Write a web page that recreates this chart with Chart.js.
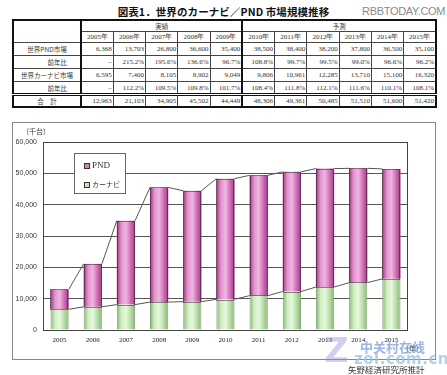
<!DOCTYPE html>
<html>
<head>
<meta charset="utf-8">
<script src="https://cdn.jsdelivr.net/npm/chart.js@4/dist/chart.umd.min.js"></script>
<style>
	body { margin: 0; width: 447px; height: 375px; overflow: hidden; background: #fff; position: relative; font-family: "Noto Sans CJK JP", sans-serif; }
	#title { position: absolute; left: 0; width: 447px; top: 4px; text-align: center; font: bold 10.5px "Noto Sans CJK JP"; color: #111; letter-spacing: 0.1px; }
	#site { position: absolute; left: 362px; top: 5px; font: 11px "Liberation Sans"; color: #8a8a8a; letter-spacing: -0.3px; }
	#tbl { position: absolute; left: 12px; top: 19px; width: 425px; border-collapse: collapse; table-layout: fixed; border: 2px solid #111; color: #333; }
	#tbl td { border: 1px solid #444; padding: 0 1px; font: 7px "Liberation Serif"; white-space: nowrap; overflow: hidden; }
	#tbl td.lab { font: 6.5px "Noto Sans CJK JP"; text-align: center; border-right: 2px solid #111; }
	#tbl td.sub { text-align: right; padding-right: 13px; }
	#tbl td.num { text-align: right; }
	#tbl td.hd { text-align: center; font: 6.5px "Noto Sans CJK JP"; }
	#tbl td.yr { text-align: center; font: 7px "Liberation Serif"; }
	#tbl td.split { border-left: 2px solid #111; }
	#tbl tr.tot td { border-top: 3px double #111; }
	#frame { position: absolute; left: 12px; top: 122px; width: 422px; height: 236px; border: 1px solid #888; }
	#wrap { position: absolute; left: 13px; top: 123px; width: 422px; height: 236px; }
	#unit { position: absolute; left: 22px; top: 126px; font: 7px "Noto Sans CJK JP"; color: #333; }
	#legend { position: absolute; left: 74px; top: 153px; width: 50px; height: 39px; border: 1px solid #666; background: #fff; }
	#legend div { position: absolute; left: 9px; white-space: nowrap; color: #333; }
	#legend span.sw { display: inline-block; width: 4px; height: 4px; border: 1px solid #333; margin-right: 2px; vertical-align: middle; }
	#year { position: absolute; left: 402px; top: 343px; font: 7px "Noto Sans CJK JP"; color: #333; }
	#wm1 { position: absolute; left: 324px; top: 330px; font: bold 34px "DejaVu Sans"; color: rgba(140,140,215,0.4); }
	#wm2 { position: absolute; left: 360px; top: 337px; font: bold 13px "Noto Sans CJK SC"; color: rgba(110,150,215,0.7); }
	#wm3 { position: absolute; left: 354px; top: 350px; font: bold 15px "DejaVu Sans"; color: rgba(150,195,230,0.75); letter-spacing: 0.5px; }
	#src { position: absolute; left: 348px; top: 363px; font: 8.5px "Noto Sans CJK JP"; color: #333; }
</style>
</head>
<body>
<div id="title">図表1．世界のカーナビ／PND 市場規模推移</div>
<div id="site">RBBTODAY.COM</div>
<table id="tbl"></table>
<div id="frame"></div>
<div id="wrap"><canvas id="chart" width="422" height="236"></canvas></div>
<div id="unit">（千台）</div>
<div id="legend"></div>
<div id="year">（年）</div>
<div id="wm1">Z</div>
<div id="wm2">中关村在线</div>
<div id="wm3">zol.com.cn</div>
<div id="src">矢野経済研究所推計</div>
<script>
const years = ['2005', '2006', '2007', '2008', '2009', '2010', '2011', '2012', '2013', '2014', '2015'];
const pndValues = [6368, 13703, 26800, 36600, 35400, 38500, 38400, 38200, 37800, 36500, 35100];
const pndGrowth = ['–', '215.2%', '195.6%', '136.6%', '96.7%', '108.8%', '99.7%', '99.5%', '99.0%', '96.6%', '96.2%'];
const navValues = [6595, 7400, 8105, 8902, 9049, 9806, 10961, 12285, 13710, 15100, 16320];
const navGrowth = ['–', '112.2%', '109.5%', '109.8%', '101.7%', '108.4%', '111.8%', '112.1%', '111.6%', '110.1%', '108.1%'];
const totalValues = [12963, 21103, 34905, 45502, 44449, 48306, 49361, 50485, 51510, 51600, 51420];
const actualCount = 5; // 2005-2009 実績, rest 予測
const yMax = 60000;
const yStep = 10000;

function fmt(v) {
	return typeof v === 'number' ? v.toLocaleString('en-US') : v;
}

// TABLE
function row(label, values, labCls, h, trCls) {
	let html = '<tr style="height:' + h + 'px"' + (trCls ? ' class="' + trCls + '"' : '') + '><td class="lab ' + labCls + '">' + label + '</td>';
	values.forEach((v, i) => {
		html += '<td class="num' + (i === actualCount ? ' split' : '') + '">' + fmt(v) + '</td>';
	});
	return html + '</tr>';
}

let t = '<colgroup><col style="width:68px">';
years.forEach(() => t += '<col>');
t += '</colgroup>';
t += '<tr style="height:11px"><td class="lab" rowspan="2"></td><td class="hd" colspan="' + actualCount + '">実績</td><td class="hd split" colspan="' + (years.length - actualCount) + '">予測</td></tr>';
t += '<tr style="height:11px">';
years.forEach((y, i) => t += '<td class="yr' + (i === actualCount ? ' split' : '') + '">' + y + '年</td>');
t += '</tr>';
t += row('世界PND市場', pndValues, '', 13);
t += row('前年比', pndGrowth, 'sub', 13);
t += row('世界カーナビ市場', navValues, '', 13);
t += row('前年比', navGrowth, 'sub', 13);
t += row('合　計', totalValues, '', 12, 'tot');
document.getElementById('tbl').innerHTML = t;

// CHART
const barPct = 0.55;
const pinkStops = ['#9a3a7e', '#e394cf', '#efb6e0', '#d06fb6', '#9e3d83'];
const greenStops = ['#86b276', '#cfeec0', '#e6f8de', '#b9dca8', '#87b478'];

function barGradient(stops) {
	return function (c) {
		const chart = c.chart;
		if (!chart.chartArea || c.dataIndex === undefined) return stops[2];
		const xs = chart.scales.x;
		const cx = xs.getPixelForValue(c.dataIndex);
		const w = xs.width / years.length * barPct;
		const g = chart.ctx.createLinearGradient(cx - w / 2, 0, cx + w / 2, 0);
		stops.forEach((s, i) => g.addColorStop(i / (stops.length - 1), s));
		return g;
	};
}

const chartDecor = {
	id: 'chartDecor',
	afterDatasetsDraw(chart) {
		const ctx = chart.ctx;
		const a = chart.chartArea;
		ctx.save();
		// series lines between bar tops
		ctx.strokeStyle = '#555';
		ctx.lineWidth = 1;
		[0, 1].forEach(di => {
			const bars = chart.getDatasetMeta(di).data;
			ctx.beginPath();
			for (let i = 0; i < bars.length - 1; i++) {
				const p = bars[i], q = bars[i + 1];
				ctx.moveTo(p.x + p.width / 2, p.y);
				ctx.lineTo(q.x - q.width / 2, q.y);
			}
			ctx.stroke();
		});
		// dotted border around PND segment
		ctx.strokeStyle = '#2a1424';
		ctx.setLineDash([1, 1]);
		chart.getDatasetMeta(1).data.forEach(b => {
			ctx.strokeRect(Math.round(b.x - b.width / 2) + 0.5, Math.round(b.y) + 0.5, Math.round(b.width) - 1, Math.round(b.base - b.y));
		});
		ctx.setLineDash([]);
		// plot frame
		ctx.strokeStyle = '#444';
		ctx.strokeRect(Math.round(a.left) + 0.5, Math.round(a.top) + 0.5, Math.round(a.width) - 1, Math.round(a.height));
		ctx.restore();
	}
};

const chart = new Chart(document.getElementById('chart'), {
	type: 'bar',
	data: {
		labels: years,
		datasets: [{
			label: 'カーナビ',
			data: navValues,
			backgroundColor: barGradient(greenStops),
			borderColor: '#86a67c',
			borderWidth: { left: 1, right: 1, top: 0, bottom: 0 },
			borderSkipped: false,
			legendColor: '#c9e8ba'
		}, {
			label: 'PND',
			data: pndValues,
			backgroundColor: barGradient(pinkStops),
			borderWidth: 0,
			legendColor: '#d77fbf'
		}]
	},
	options: {
		responsive: false,
		animation: false,
		devicePixelRatio: 1,
		layout: { padding: { left: 0, top: 19, right: 27, bottom: 11 } },
		datasets: { bar: { barPercentage: barPct, categoryPercentage: 1 } },
		plugins: { legend: { display: false }, tooltip: { enabled: false } },
		scales: {
			x: {
				stacked: true,
				grid: { display: false, drawTicks: false },
				border: { display: false },
				ticks: { color: '#222', font: { family: 'Liberation Serif', size: 7 }, padding: 6, maxRotation: 0 },
				afterFit: s => { s.height = 18; }
			},
			y: {
				stacked: true,
				min: 0,
				max: yMax,
				grid: { color: '#555', drawTicks: false },
				border: { display: false },
				ticks: {
					stepSize: yStep,
					color: '#333',
					font: { family: 'Liberation Sans', size: 7 },
					padding: 6,
					callback: v => v.toLocaleString('en-US')
				},
				afterFit: s => { s.width = 30; }
			}
		}
	},
	plugins: [chartDecor]
});

// LEGEND (PND listed first, as in the source)
const legend = document.getElementById('legend');
[1, 0].forEach((di, k) => {
	const ds = chart.data.datasets[di];
	const item = document.createElement('div');
	item.style.top = (k === 0 ? 6 : 25) + 'px';
	item.style.font = k === 0 ? '9px "Liberation Serif"' : '7px "Noto Sans CJK JP"';
	item.innerHTML = '<span class="sw" style="background:' + ds.legendColor + '"></span>' + ds.label;
	legend.appendChild(item);
});
</script>
</body>
</html>
